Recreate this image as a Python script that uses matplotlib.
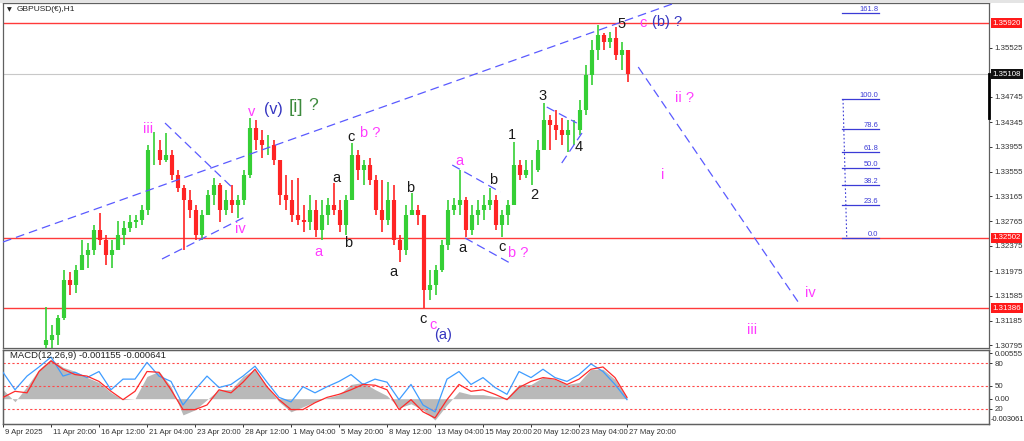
import matplotlib
matplotlib.use("Agg")
import matplotlib.pyplot as plt
from matplotlib.transforms import ScaledTranslation
from matplotlib.patches import Rectangle
import numpy as np

plt.rcParams['font.family'] = ['Liberation Sans', 'DejaVu Sans']

# ---------------- data ----------------
symbol_title = "GBPUSD(€),H1"
macd_title = "MACD(12,26,9) -0.001155 -0.000641"

first_open = 1.3080
highs = [1.3140, 1.3112, 1.3128, 1.3199, 1.3196, 1.3207, 1.3247, 1.3242, 1.3271, 1.3290,
         1.3255, 1.3247, 1.3277, 1.3277, 1.3287, 1.3287, 1.3303, 1.3398, 1.3419, 1.3406,
         1.3417, 1.3390, 1.3358, 1.3334, 1.3327, 1.3303, 1.3295, 1.3327, 1.3346, 1.3338,
         1.3327, 1.3334, 1.3319, 1.3358, 1.3441, 1.3438, 1.3422, 1.3414, 1.3406, 1.3374,
         1.3350, 1.3342, 1.3346, 1.3303, 1.3319, 1.3311, 1.3311, 1.3314, 1.3338, 1.3311,
         1.3319, 1.3401, 1.3390, 1.3374, 1.3377, 1.3350, 1.3342, 1.3339, 1.3334, 1.3255,
         1.3303, 1.3322, 1.3303, 1.3287, 1.3199, 1.3207, 1.3247, 1.3311, 1.3314, 1.3358,
         1.3315, 1.3303, 1.3311, 1.3319, 1.3330, 1.3319, 1.3295, 1.3311, 1.3403, 1.3374,
         1.3374, 1.3374, 1.3406, 1.3465, 1.3446, 1.3454, 1.3441, 1.3438, 1.3438, 1.3470,
         1.3525, 1.3565, 1.3589, 1.3576, 1.3578, 1.3586, 1.3562, 1.3549]
lows = [1.3056, 1.3072, 1.3080, 1.3120, 1.3160, 1.3163, 1.3199, 1.3202, 1.3223, 1.3239,
        1.3207, 1.3202, 1.3231, 1.3239, 1.3260, 1.3266, 1.3271, 1.3287, 1.3366, 1.3366,
        1.3371, 1.3342, 1.3323, 1.3231, 1.3282, 1.3247, 1.3247, 1.3287, 1.3303, 1.3276,
        1.3287, 1.3290, 1.3282, 1.3303, 1.3346, 1.3390, 1.3377, 1.3382, 1.3366, 1.3303,
        1.3295, 1.3276, 1.3271, 1.3260, 1.3263, 1.3252, 1.3247, 1.3271, 1.3287, 1.3260,
        1.3255, 1.3311, 1.3342, 1.3334, 1.3334, 1.3287, 1.3260, 1.3271, 1.3239, 1.3212,
        1.3223, 1.3287, 1.3271, 1.3139, 1.3152, 1.3160, 1.3196, 1.3231, 1.3287, 1.3287,
        1.3252, 1.3255, 1.3271, 1.3279, 1.3295, 1.3263, 1.3252, 1.3271, 1.3303, 1.3342,
        1.3346, 1.3334, 1.3355, 1.3390, 1.3390, 1.3406, 1.3398, 1.3387, 1.3398, 1.3414,
        1.3446, 1.3493, 1.3533, 1.3549, 1.3552, 1.3533, 1.3517, 1.3498]
closes = [1.3088, 1.3096, 1.3123, 1.3183, 1.3175, 1.3199, 1.3223, 1.3231, 1.3263, 1.3247,
          1.3223, 1.3231, 1.3255, 1.3266, 1.3276, 1.3279, 1.3295, 1.3390, 1.3390, 1.3374,
          1.3382, 1.3350, 1.3330, 1.3311, 1.3295, 1.3255, 1.3287, 1.3319, 1.3334, 1.3295,
          1.3311, 1.3303, 1.3311, 1.3350, 1.3425, 1.3406, 1.3398, 1.3398, 1.3374, 1.3319,
          1.3311, 1.3287, 1.3279, 1.3276, 1.3295, 1.3263, 1.3287, 1.3303, 1.3295, 1.3271,
          1.3311, 1.3382, 1.3358, 1.3366, 1.3342, 1.3295, 1.3279, 1.3311, 1.3247, 1.3231,
          1.3287, 1.3295, 1.3287, 1.3168, 1.3175, 1.3199, 1.3239, 1.3295, 1.3303, 1.3311,
          1.3263, 1.3287, 1.3295, 1.3303, 1.3311, 1.3271, 1.3287, 1.3303, 1.3366, 1.3350,
          1.3358, 1.3358, 1.3390, 1.3438, 1.3430, 1.3422, 1.3414, 1.3422, 1.3422, 1.3454,
          1.3509, 1.3549, 1.3573, 1.3562, 1.3568, 1.3541, 1.3549, 1.3511]

macd_hist = [0.00111, -0.00037, 0.00148, 0.00358, 0.00481, 0.00382, 0.00333, 0.00259, 0.00197, 0.00074,
             -0.00012, 0.00000, 0.00271, 0.00333, 0.00148, -0.00197, -0.00136, -0.00012, 0.00111, 0.00111,
             0.00271, 0.00358, 0.00148, -0.00037, -0.00160, -0.00099, -0.00037, 0.00012, 0.00049,
             0.00173, 0.00197, 0.00111, 0.00037, -0.00111, -0.00062, -0.00136, -0.00259, -0.00074, 0.00086,
             0.00049, 0.00049, 0.00025, 0.00012, 0.00173, 0.00173, 0.00259, 0.00234, 0.00173, 0.00197,
             0.00358, 0.00358, 0.00234, 0.00012]
osc_blue = [68, 45, 63, 75, 88, 63, 68, 61, 69, 45,
            59, 59, 81, 63, 56, 25, 45, 63, 48, 52,
            63, 76, 55, 35, 29, 49, 41, 49, 56,
            65, 52, 59, 55, 32, 52, 25, 16, 59, 69,
            52, 61, 48, 39, 69, 61, 72, 61, 56, 65,
            79, 69, 52, 32]
osc_red = [35, 43, 41, 69, 83, 72, 65, 63, 56, 43,
           32, 43, 69, 68, 45, 19, 19, 25, 45, 41,
           55, 72, 49, 32, 19, 19, 28, 35, 39,
           45, 52, 51, 45, 19, 32, 16, 8, 32, 52,
           43, 45, 39, 32, 48, 56, 61, 59, 52, 59,
           72, 75, 61, 35]

date_labels = ["9 Apr 2025", "11 Apr 20:00", "16 Apr 12:00", "21 Apr 04:00", "23 Apr 20:00",
               "28 Apr 12:00", "1 May 04:00", "5 May 20:00", "8 May 12:00", "13 May 04:00",
               "15 May 20:00", "20 May 12:00", "23 May 04:00", "27 May 20:00"]
price_ticks = [1.30795, 1.31185, 1.31585, 1.31975, 1.32375, 1.32765, 1.33165,
               1.33555, 1.33955, 1.34345, 1.34745, 1.35525]
red_levels = [1.35920, 1.32502, 1.31386]
current_price = 1.35108
fib_zero = 1.32502
fib_hundred = 1.34712
fib_levels = [0.0, 23.6, 38.2, 50.0, 61.8, 78.6, 100.0, 161.8]
osc_levels = [80, 50, 20]

# ---------------- style ----------------
UP = '#35cf35'
DN = '#ff2424'
MAG = '#ff3cff'
BLK = '#1a1a1a'
NAVY = '#3535c0'
GRN = '#3d8a3d'
DASH_BLUE = '#5a5aff'
FIB_BLUE = '#3b3bd6'
SPINE = '#606060'
FS = 5.7

W, H = 1024, 441
fig = plt.figure(figsize=(W / 100, H / 100), dpi=100)
fig.patch.set_facecolor('white')
fig.add_artist(Rectangle((0, 1 - 3 / H), 1, 3 / H, transform=fig.transFigure,
                         fc='#e4e4e4', ec='none'))

ax = fig.add_axes([3 / W, 1 - 348 / H, 986 / W, 345 / H])
axm = fig.add_axes([3 / W, 1 - 424 / H, 986 / W, 74 / H])
XMAX = 986 / 0.75
ax.set_xlim(0, XMAX)
axm.set_xlim(0, XMAX)
ax.set_ylim(1.30753, 1.36238)

# horizontal levels
for lv in red_levels:
    ax.axhline(lv, color='#ff3a3a', lw=1.0, zorder=1)
ax.axhline(current_price, color='#c8c8c8', lw=0.8, zorder=1)

# candles
n = len(closes)
xs = 57 + 8 * np.arange(n)
c = np.array(closes)
o = np.array([first_open] + closes[:-1])
h = np.array(highs)
l = np.array(lows)
cols = np.where(c >= o, UP, DN)
ax.vlines(xs, l, h, colors=cols, lw=1.2, zorder=3)
ax.vlines(xs, np.minimum(o, c), np.maximum(o, c), colors=cols, lw=3.0, zorder=3)

# dashed blue trend lines
dash_lines = [
    ((0, 1.32438), (896, 1.36238)),
    ((216, 1.34330), (305, 1.33312)),
    ((212, 1.32168), (325, 1.32851)),
    ((599, 1.33662), (663, 1.33233)),
    ((616, 1.32502), (676, 1.32104)),
    ((725, 1.34584), (765, 1.34330)),
    ((745, 1.33694), (772, 1.34171)),
    ((847, 1.35220), (1063, 1.31436)),
]
for (x0, y0), (x1, y1) in dash_lines:
    ax.plot([x0, x1], [y0, y1], color=DASH_BLUE, lw=0.9, ls=(0, (7, 4)), zorder=4)

# Fibonacci tool
for lv in fib_levels:
    p = fib_zero + (fib_hundred - fib_zero) * lv / 100.0
    ax.plot([1119, 1168], [p, p], color=FIB_BLUE, lw=0.9, zorder=4)
    ax.text(1167, p, f"{lv:.1f}", ha='right', va='bottom', fontsize=5.4,
            color=FIB_BLUE, zorder=5)
ax.plot([1120, 1125], [fib_hundred, fib_zero], color=FIB_BLUE, lw=0.8,
        ls=(0, (1.5, 2)), zorder=4)

# wave labels
wave_labels = [
    ("iii", 193, 1.34235, MAG, 10.5), ("iv", 317, 1.32645, MAG, 10.5),
    ("v", 332, 1.34505, MAG, 10.5), ("(v)", 360, 1.34537, NAVY, 11.5),
    ("[i]", 390, 1.34584, GRN, 13.5), ("?", 413, 1.34616, GRN, 12.5),
    ("a", 420, 1.32279, MAG, 10.5), ("a", 444, 1.33456, BLK, 10.5),
    ("b", 460, 1.32422, BLK, 10.5), ("c", 464, 1.34107, BLK, 10.5),
    ("b ?", 489, 1.34171, MAG, 10.5), ("a", 520, 1.31961, BLK, 10.5),
    ("b", 543, 1.33297, BLK, 10.5), ("c", 560, 1.31214, BLK, 10.5),
    ("c", 573, 1.31118, MAG, 10.5), ("(a)", 587, 1.30959, NAVY, 10.5),
    ("a", 609, 1.33726, MAG, 10.5), ("a", 613, 1.32343, BLK, 10.5),
    ("b", 653, 1.33424, BLK, 10.5), ("c", 665, 1.32358, BLK, 10.5),
    ("b ?", 687, 1.32263, MAG, 10.5), ("1", 679, 1.34139, BLK, 10.5),
    ("2", 708, 1.33185, BLK, 10.5), ("3", 720, 1.34759, BLK, 10.5),
    ("4", 767, 1.33948, BLK, 10.5), ("5", 825, 1.35904, BLK, 10.5),
    ("c", 853, 1.35920, MAG, 10.5), ("(b) ?", 885, 1.35936, NAVY, 10.5),
    ("ii ?", 909, 1.34728, MAG, 10.5), ("i", 879, 1.33503, MAG, 10.5),
    ("iii", 999, 1.31039, MAG, 10.5), ("iv", 1076, 1.31627, MAG, 10.5),
]
for txt, bx, py, col, fs in wave_labels:
    ax.text(bx, py, txt, color=col, fontsize=fs, ha='center', va='center', zorder=6)

# title
ax.text(4 / 986, 0.98, "\u25BC", transform=ax.transAxes, fontsize=4.5,
        ha='left', va='center', color='#222222', family='DejaVu Sans')
ax.text(14 / 986, 0.98, symbol_title, transform=ax.transAxes, fontsize=6.0,
        ha='left', va='center', color='#222222')

# right price axis
ax.yaxis.tick_right()
ax.set_yticks(price_ticks)
ax.set_yticklabels([f"{t:.5f}" for t in price_ticks], fontsize=FS, color='#222222')
ax.tick_params(axis='y', length=2.5, pad=1.5, width=0.7, colors='#333333')
ax.set_xticks([])
ytr = ax.get_yaxis_transform()
for lv in red_levels:
    ax.text(1.0035, lv, f"{lv:.5f}", transform=ytr, ha='left', va='center',
            fontsize=FS, color='white', clip_on=False, zorder=10,
            bbox=dict(boxstyle='square,pad=0.2', fc='#ff1a1a', ec='none'))
ax.text(1.0035, current_price, f"{current_price:.5f}", transform=ytr, ha='left',
        va='center', fontsize=FS, color='white', clip_on=False, zorder=10,
        bbox=dict(boxstyle='square,pad=0.2', fc='#111111', ec='none'))
ax.plot([1.0, 1.0], [current_price, 1.34409], transform=ytr, color='black',
        lw=2.0, clip_on=False, zorder=9)

for sp in ax.spines.values():
    sp.set_color(SPINE)
    sp.set_linewidth(0.9)

# ---------------- MACD panel ----------------
mx = 16 * np.arange(len(macd_hist))
axm.fill_between(mx, 0, macd_hist, color='#b9b9b9', lw=0, zorder=1)
axm.set_ylim(-0.00308, 0.00592)
axo = axm.twinx()
axo.set_ylim(0, 97.3)
for lv in osc_levels:
    axo.axhline(lv, color='#ff4a4a', lw=0.8, ls=(0, (2, 2)), zorder=1)
axo.plot(mx, osc_blue, color='#3f9cff', lw=0.9, zorder=3)
axo.plot(mx, osc_red, color='#ff2a2a', lw=0.9, zorder=3)
axo.set_xlim(0, XMAX)

axm.yaxis.tick_right()
axm.set_yticks([0.00555, 0.0])
axm.set_yticklabels(["0.00555", "0.00"], fontsize=FS, color='#222222')
axm.tick_params(axis='y', length=2.5, pad=1.5, width=0.7, colors='#333333')
axo.set_yticks(osc_levels)
axo.set_yticklabels([str(v) for v in osc_levels], fontsize=FS, color='#222222')
axo.tick_params(axis='y', length=2.5, pad=1.5, width=0.7, colors='#333333')
axm.text(1.002, -0.00255, "-0.003061", transform=axm.get_yaxis_transform(),
         ha='left', va='center', fontsize=5.3, color='#222222', clip_on=False)

axm.set_xticks(64 * np.arange(len(date_labels)))
axm.set_xticklabels(date_labels, fontsize=5.6, color='#222222', ha='left')
axm.tick_params(axis='x', length=2.5, pad=1.0, width=0.7, colors='#333333')
off = ScaledTranslation(1.5 / 72, 0, fig.dpi_scale_trans)
for lab in axm.get_xticklabels():
    lab.set_transform(lab.get_transform() + off)

axo.text(7 / 986, 0.92, macd_title, transform=axo.transAxes, fontsize=6.8,
         ha='left', va='center', color='#222222')

for a in (axm, axo):
    for sp in a.spines.values():
        sp.set_color(SPINE)
        sp.set_linewidth(0.9)

fig.savefig("out.png", dpi=100, facecolor='white')
